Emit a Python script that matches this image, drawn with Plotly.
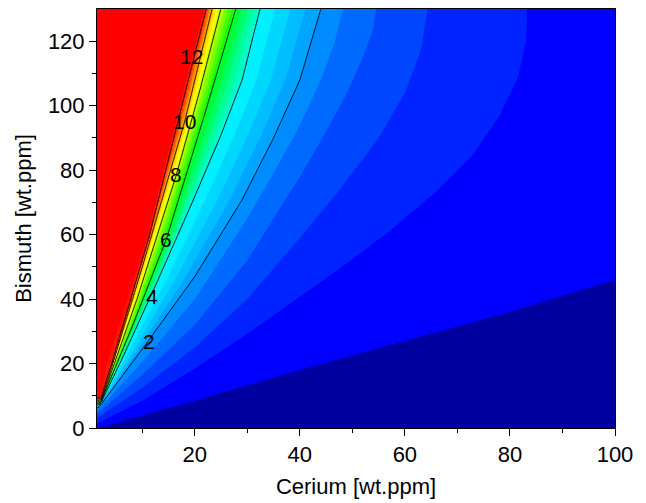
import numpy as np
import plotly.graph_objects as go

# ---- Data: Ce position (x) of each iso-level at given Bi (y)
levels = [12.5, 12, 10, 8, 6, 4, 2, 1.5, 1, 0.5, 0, -0.5]

ce_12p5 = [0, 2.0, 3.2, 10.9, 19.0, 21.9]
bi_12p5 = [8.5, 9.8, 19.7, 59, 112, 130]

ce_12 = [0, 2.2, 4.2, 11.3, 19.4, 22.2]
bi_12 = [8.0, 9.5, 19.5, 59, 112, 130]

ce_10 = [0, 2.3, 10, 18.1, 23.3]
bi_10 = [7.5, 9.0, 50, 95.1, 130]

ce_8 = [0, 2.2, 9, 16.5, 21, 24.95]
bi_8 = [7.0, 8.5, 40, 78.6, 105, 130]

ce_6 = [0, 2.1, 8, 14.6, 16.9, 22, 25, 27.8]
bi_6 = [6.5, 8.0, 31, 58.6, 70.8, 98, 114.5, 130]

ce_4 = [0, 2.0, 6, 12.7, 19.7, 25, 29, 32.4]
bi_4 = [6.0, 7.5, 21, 45, 70.8, 91, 108, 130]

ce_2 = [0, 1.8, 10.3, 20, 29, 35, 40, 44]
bi_2 = [5.0, 6.6, 25.2, 47, 70.8, 90, 108, 130]

ce_1p5 = [0, 1.7, 10, 20, 30, 36, 40, 44, 46.5, 48.2]
bi_1p5 = [4.0, 5.7, 20.5, 40, 65, 82, 94, 108, 119, 130]

ce_1 = [0, 1.6, 10, 20, 30, 40, 45, 49, 52, 54, 54.5]
bi_1 = [3.0, 4.6, 16.5, 32, 52, 78, 92, 104, 115, 124, 130]

ce_0p5 = [0, 1.5, 10, 20, 30, 40, 47.6, 55, 60, 63, 64.3]
bi_0p5 = [1.5, 3.2, 12.5, 25, 40, 59, 74, 90, 104, 117, 130]

ce_0 = [0, 1.5, 10, 20, 30, 40, 47.6, 57, 66, 73, 78, 81.5, 83, 83.2]
bi_0 = [0, 1.5, 8.5, 18.5, 29.3, 40.8, 49.5, 61, 73.5, 85, 97, 109, 120, 130]

ce_m0p5 = [1.5, 20, 40, 60, 80, 100, 268]
bi_m0p5 = [0, 8.5, 18, 27, 36, 46, 130]

curves = [(ce_12p5, bi_12p5), (ce_12, bi_12), (ce_10, bi_10), (ce_8, bi_8),
          (ce_6, bi_6), (ce_4, bi_4), (ce_2, bi_2), (ce_1p5, bi_1p5),
          (ce_1, bi_1), (ce_0p5, bi_0p5), (ce_0, bi_0), (ce_m0p5, bi_m0p5)]

line_levels = [2, 4, 6, 8, 10, 12]

# contour-label positions
label_text = ["12", "10", "8", "6", "4", "2"]
label_ce = [19.4, 18.1, 16.5, 14.6, 11.9, 11.3]
label_bi = [115.3, 95.1, 78.6, 58.6, 40.8, 26.8]

# band colours from lowest (below -0.5) to highest (above 12.5)
band_colors = [
    (0, 0, 160), (0, 0, 255), (0, 35, 255), (0, 70, 255), (0, 105, 255), (0, 140, 255),
    (0, 165, 255), (0, 190, 255), (0, 215, 255), (0, 240, 255),
    (0, 255, 200), (0, 255, 150), (0, 255, 100), (0, 255, 50),
    (20, 255, 0), (70, 255, 0), (120, 255, 0), (170, 255, 0),
    (210, 255, 0), (255, 255, 0), (255, 230, 0), (255, 200, 0),
    (255, 165, 0), (255, 130, 0), (255, 90, 0), (255, 50, 0), (255, 20, 0),
    (255, 0, 0),
]

# ---- Build the grid the contour trace needs from the read iso-lines
x = np.linspace(1.4, 100, 500)
y = np.linspace(0, 130, 521)
z = np.zeros((len(y), len(x)))
for j, yy in enumerate(y):
    pos = [float(np.interp(yy, b, c)) for c, b in curves]
    for i in range(len(pos) - 2, -1, -1):
        pos[i] = min(pos[i], pos[i + 1] - 1e-3)
    xp = [pos[0] - 0.5] + pos + [pos[-1] + 30]
    fp = [13.0] + levels + [-1.0]
    z[j] = np.interp(x, xp, fp)

zmin, zmax = -1.0, 13.0
edges = [zmin] + list(np.arange(-0.5, 12.51, 0.5)) + [zmax]
cscale = []
for k, col in enumerate(band_colors):
    a = (edges[k] - zmin) / (zmax - zmin)
    b = (edges[k + 1] - zmin) / (zmax - zmin)
    c = "rgb(%d,%d,%d)" % col
    cscale.append([a, c])
    cscale.append([b, c])

fig = go.Figure()
fig.add_trace(go.Contour(
    x=x, y=y, z=z, zmin=zmin, zmax=zmax, zauto=False,
    colorscale=cscale, showscale=False,
    contours=dict(start=-0.5, end=12.5, size=0.5, coloring="fill"),
    line=dict(width=0), hoverinfo="skip",
))
fig.add_trace(go.Contour(
    x=x, y=y, z=z, showscale=False,
    contours=dict(start=line_levels[0], end=line_levels[-1], size=2, coloring="none",
                  showlabels=False),
    line=dict(color="black", width=1), hoverinfo="skip",
))

font = dict(family="Liberation Sans, Arial, sans-serif", size=22, color="black")
for t, cx, cy in zip(label_text, label_ce, label_bi):
    fig.add_annotation(x=cx, y=cy, text=t, showarrow=False,
                       font=dict(family="Liberation Sans, Arial, sans-serif", size=21, color="black"))

fig.update_layout(
    width=646, height=503,
    margin=dict(l=89, r=39, t=1, b=83),
    paper_bgcolor="white", plot_bgcolor="white",
    font=font, showlegend=False,
)
fig.update_xaxes(
    range=[1.4, 100], tickvals=[20, 40, 60, 80, 100],
    showline=True, linecolor="black", linewidth=1, mirror=True,
    ticks="outside", ticklen=7, tickwidth=1, tickcolor="black",
    minor=dict(ticks="outside", ticklen=4, tickvals=[10, 30, 50, 70, 90], tickcolor="black"),
    showgrid=False, zeroline=False,
    title=dict(text="Cerium [wt.ppm]", font=font, standoff=12),
    tickfont=font,
)
fig.update_yaxes(
    range=[0, 130], tickvals=[0, 20, 40, 60, 80, 100, 120],
    showline=True, linecolor="black", linewidth=1, mirror=True,
    ticks="outside", ticklen=7, tickwidth=1, tickcolor="black",
    minor=dict(ticks="outside", ticklen=4, tickvals=[10, 30, 50, 70, 90, 110], tickcolor="black"),
    showgrid=False, zeroline=False,
    title=dict(text="Bismuth [wt.ppm]", font=font, standoff=10),
    tickfont=font,
)
fig.write_html("out.html")
